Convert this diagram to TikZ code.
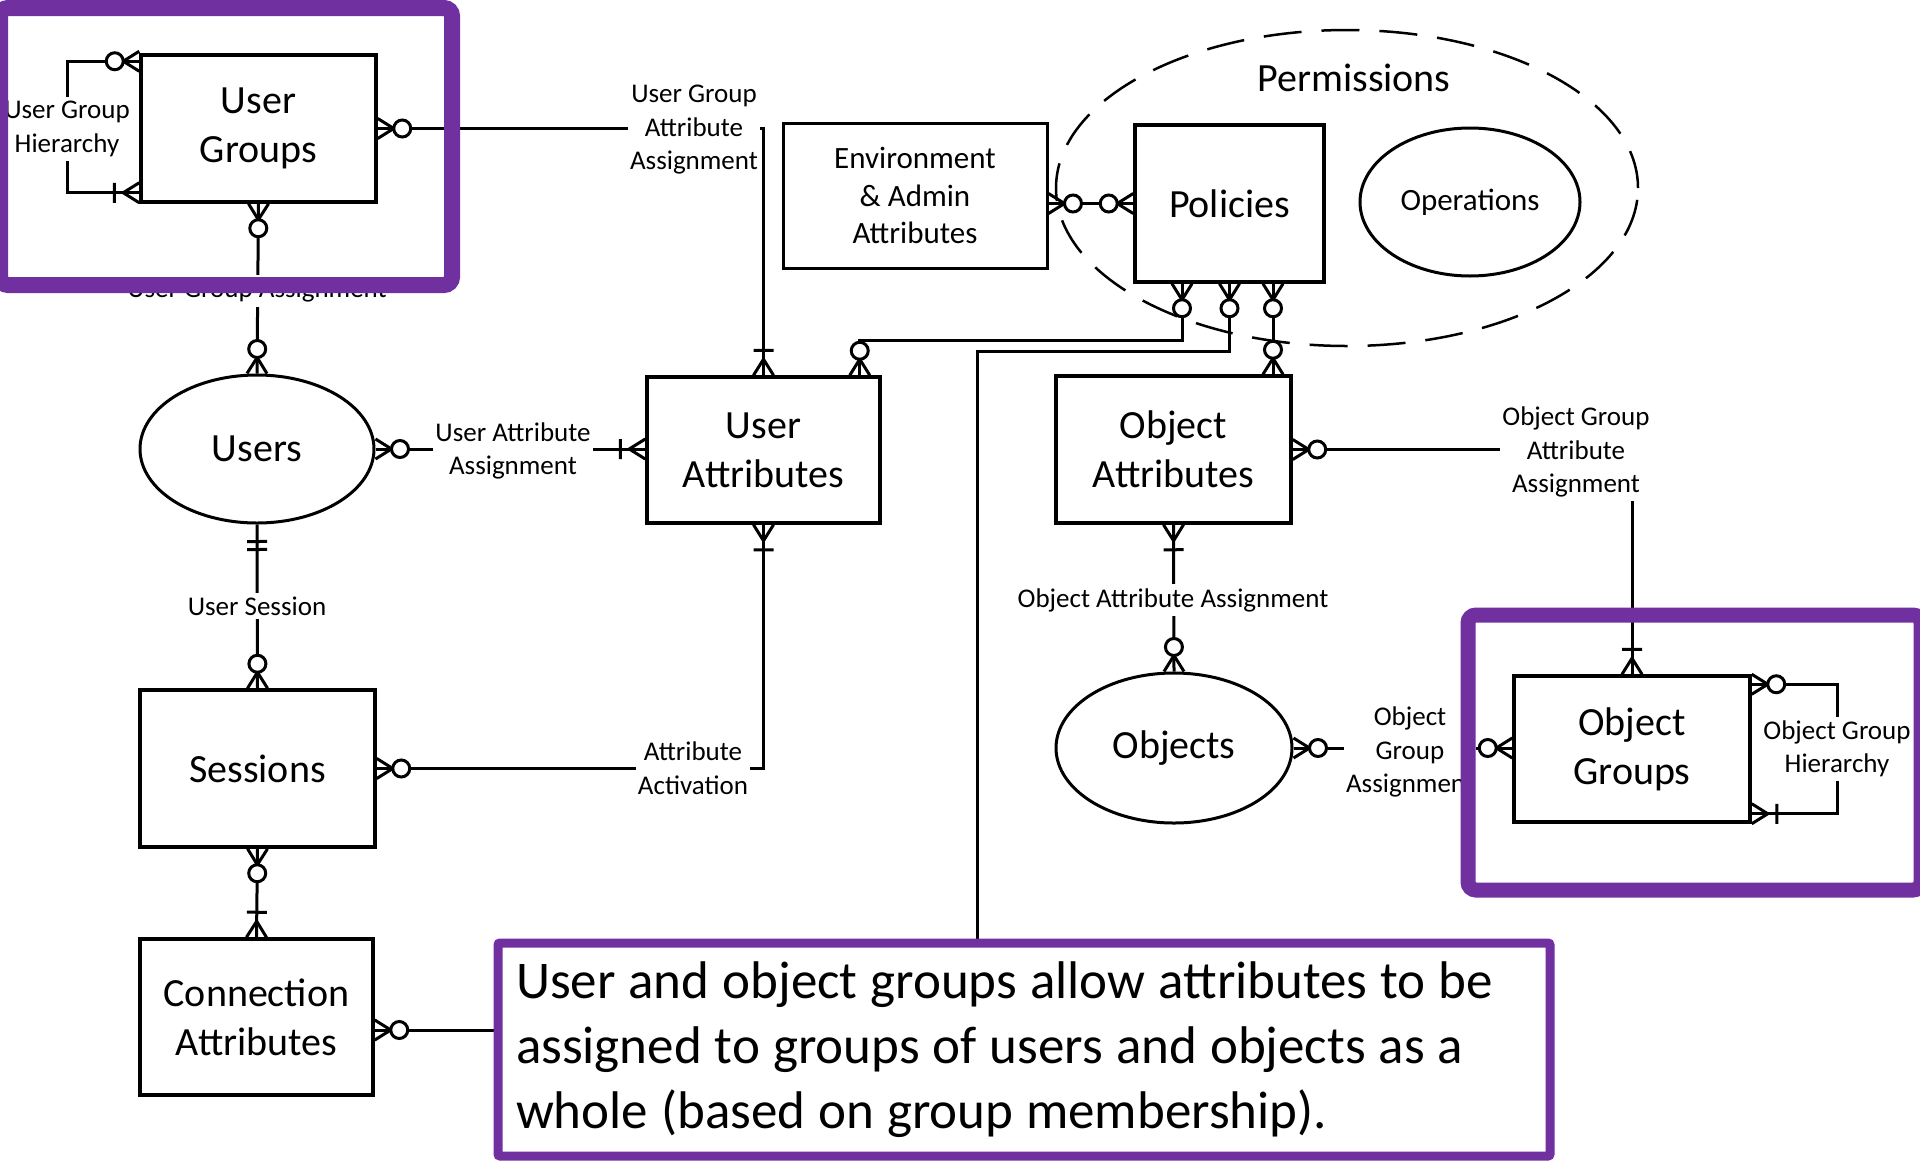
\documentclass[tikz,border=0pt]{standalone}
\usepackage{fontspec}
\setmainfont{Carlito}
\usetikzlibrary{arrows.meta,shapes.geometric,calc}

\definecolor{frameviolet}{RGB}{112,48,160}

% ER end marks (sizes in pt; the picture uses 1pt per unit)
% zero or many: crow's foot with a ring
\pgfdeclarearrow{
  name = erMany,
  setup code = {
    \pgfarrowssettipend{0pt}
    \pgfarrowssetlineend{0pt}
    \pgfarrowssetbackend{-34pt}
    \pgfarrowshullpoint{0pt}{10pt}
    \pgfarrowshullpoint{0pt}{-10pt}
    \pgfarrowshullpoint{-34pt}{9pt}
    \pgfarrowshullpoint{-34pt}{-9pt}
  },
  drawing code = {
    \pgfsetdash{}{0pt}
    \pgfpathmoveto{\pgfqpoint{0pt}{10pt}}
    \pgfpathlineto{\pgfqpoint{-16pt}{0pt}}
    \pgfpathlineto{\pgfqpoint{0pt}{-10pt}}
    \pgfusepathqstroke
    \pgfsetfillcolor{white}
    \pgfpathcircle{\pgfqpoint{-24.5pt}{0pt}}{8.5pt}
    \pgfusepathqfillstroke
  }
}
% one or many: crow's foot with a bar
\pgfdeclarearrow{
  name = erOneMany,
  setup code = {
    \pgfarrowssettipend{0pt}
    \pgfarrowssetlineend{0pt}
    \pgfarrowssetbackend{-27pt}
    \pgfarrowshullpoint{0pt}{10pt}
    \pgfarrowshullpoint{0pt}{-10pt}
    \pgfarrowshullpoint{-27pt}{10pt}
    \pgfarrowshullpoint{-27pt}{-10pt}
  },
  drawing code = {
    \pgfsetdash{}{0pt}
    \pgfpathmoveto{\pgfqpoint{0pt}{10pt}}
    \pgfpathlineto{\pgfqpoint{-16pt}{0pt}}
    \pgfpathlineto{\pgfqpoint{0pt}{-10pt}}
    \pgfpathmoveto{\pgfqpoint{-25pt}{10pt}}
    \pgfpathlineto{\pgfqpoint{-25pt}{-10pt}}
    \pgfusepathqstroke
  }
}
% exactly one: two bars
\pgfdeclarearrow{
  name = erOne,
  setup code = {
    \pgfarrowssettipend{0pt}
    \pgfarrowssetlineend{0pt}
    \pgfarrowssetbackend{-27pt}
    \pgfarrowshullpoint{0pt}{10pt}
    \pgfarrowshullpoint{0pt}{-10pt}
    \pgfarrowshullpoint{-27pt}{10pt}
    \pgfarrowshullpoint{-27pt}{-10pt}
  },
  drawing code = {
    \pgfsetdash{}{0pt}
    \pgfpathmoveto{\pgfqpoint{-17pt}{10pt}}
    \pgfpathlineto{\pgfqpoint{-17pt}{-10pt}}
    \pgfpathmoveto{\pgfqpoint{-25pt}{10pt}}
    \pgfpathlineto{\pgfqpoint{-25pt}{-10pt}}
    \pgfusepathqstroke
  }
}

\tikzset{
  entbox/.style={draw, line width=3.5pt, fill=white, inner sep=0pt, align=center,
    font=\fontsize{40}{49}\selectfont},
  entoval/.style={entbox, ellipse, line width=3pt},
  conn/.style={line width=3pt},
  lab/.style={fill=white, inner xsep=2pt, inner ysep=4pt, align=center,
    font=\fontsize{27}{33.5}\selectfont},
  highlight/.style={draw=frameviolet, rounded corners=8pt},
}

\begin{document}
\begin{tikzpicture}[x=1pt, y=-1pt]
\useasboundingbox (0,0) rectangle (1920,1160);

% permissions group
\node[draw, ellipse, dash pattern=on 38pt off 20pt, line width=2.5pt,
      minimum width=582pt, minimum height=316pt, inner sep=0pt] (perm) at (1347,188) {};
\node[font=\fontsize{40}{49}\selectfont, inner sep=0pt] (permtitle) at (1354,78) {Permissions};

% entities
\node[entbox, minimum width=235pt, minimum height=147pt] (ug) at (258.5,128.5) {User\\Groups};
\node[entoval, minimum width=234pt, minimum height=148pt] (users) at (257,449) {Users};
\node[entbox, minimum width=233pt, minimum height=146pt] (ua) at (763.5,450) {User\\Attributes};
\node[entbox, minimum width=235pt, minimum height=157pt] (sess) at (257.5,768.5) {Sessions};
\node[entbox, minimum width=233pt, minimum height=156pt] (ca) at (256.5,1017) {Connection\\Attributes};
\node[entbox, line width=3pt, minimum width=264pt, minimum height=145pt,
      font=\fontsize{31}{37.5}\selectfont] (env) at (915,195.5) {Environment\\\& Admin\\Attributes};
\node[entbox, minimum width=189pt, minimum height=157pt] (pol) at (1229.5,203.5) {Policies};
\node[entoval, minimum width=220pt, minimum height=148pt,
      font=\fontsize{31}{37.5}\selectfont] (ops) at (1470,202) {Operations};
\node[entbox, minimum width=235pt, minimum height=147pt] (oa) at (1173.5,449.5) {Object\\Attributes};
\node[entoval, minimum width=236pt, minimum height=150pt] (obj) at (1174,748) {Objects};
\node[entbox, minimum width=236pt, minimum height=146pt] (og) at (1632,749) {Object\\Groups};

% connector bends, side ports and label spots
\coordinate (ughier) at (67,129);
\coordinate (oghier) at (1837,749);
\coordinate (connbend) at (977,351);
\coordinate (uabend) at (858,340);
\coordinate (uaport) at ([xshift=-22pt]ua.north east);
\coordinate (polportl) at ([xshift=-47.5pt]pol.south);
\coordinate (polportr) at ([xshift=43.5pt]pol.south);

% relationships
\draw[conn, arrows=erMany-erOneMany]
  ([yshift=-8pt]ug.north west) -| (ughier) |- ([yshift=11pt]ug.south west);
\draw[conn, arrows=erMany-erOneMany] (ug.east) -| (ua.north);
\draw[conn, arrows=erMany-erMany] (ug.south) -- (users.north);
\draw[conn, arrows=erMany-erOneMany] (users.east) -- (users.east -| ua.west);
\draw[conn, arrows=erOne-erMany] (users.south) -- (sess.north);
\draw[conn, arrows=erMany-erOneMany] (sess.east) -| (ua.south);
\draw[conn, arrows=erMany-erOneMany] (sess.south) -- (ca.north);
\draw[conn, arrows=erMany-erMany]
  ([yshift=-13pt]ca.east) -| (connbend) -| (pol.south);
\draw[conn, arrows=erMany-erMany] (uaport) |- (uabend) -| (polportl);
\draw[conn, arrows=erMany-erMany] (polportr) -- (polportr |- oa.north);
\draw[conn, arrows=erMany-erMany] (env.east |- pol.west) -- (pol.west);
\draw[conn, arrows=erMany-erOneMany] (oa.east) -| (og.north);
\draw[conn, arrows=erOneMany-erMany] (oa.south) -- (obj.north);
\draw[conn, arrows=erMany-erMany] (obj.east) -- (obj.east -| og.west);
\draw[conn, arrows=erMany-erOneMany]
  ([yshift=-10pt]og.north east) -| (oghier) |- ([yshift=10pt]og.south east);

% relationship names
\node[lab] (lughier) at (ughier) {User Group\\Hierarchy};
\node[lab] (lugaa) at (694,130) {User Group\\Attribute\\Assignment};
\node[lab] (luga) at (257,291) {User Group Assignment};
\node[lab] (luaa) at (513,451) {User Attribute\\Assignment};
\node[lab] (lus) at (257,606) {User Session};
\node[lab] (laa) at (693,768) {Attribute\\Activation};
\node[lab] (logaa) at (1576,452) {Object Group\\Attribute\\Assignment};
\node[lab] (loaa) at (1173,600) {Object Attribute Assignment};
\node[lab] (loga) at (1410,752) {Object\\Group\\Assignment};
\node[lab] (loghier) at (oghier) {Object Group\\Hierarchy};

% callout
\node[draw=frameviolet, line width=9pt, fill=white, rounded corners=2pt,
      minimum height=213pt, text width=1016pt, inner xsep=18pt, inner ysep=0pt,
      align=left, font=\fontsize{53}{65}\selectfont]
  (note) at (1024,1049.5)
  {\spaceskip=0.245em plus 0.05em\relax
   User and object groups allow attributes to be\\
   assigned to groups of users and objects as a\\
   whole (based on group membership).};

% highlighted regions
\draw[highlight, line width=16pt] (0,8) rectangle (452,285);
\draw[highlight, line width=15pt] (1468,615) rectangle (1921,890);
\end{tikzpicture}
\end{document}
